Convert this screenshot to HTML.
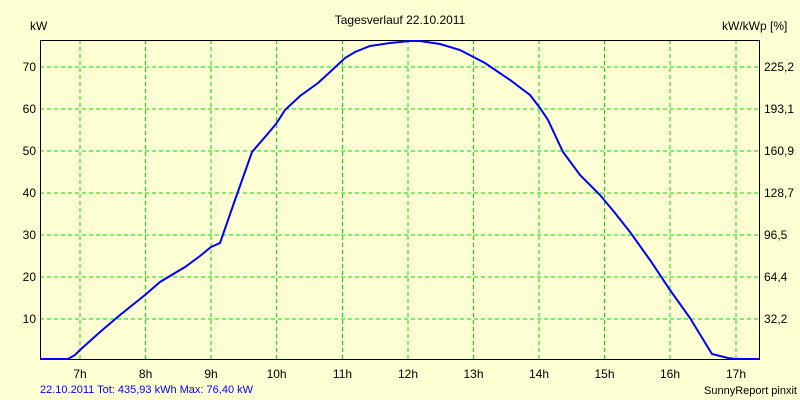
<!DOCTYPE html>
<html><head><style>
body{margin:0;background:#ffffd4;}
svg{display:block;font-family:"Liberation Sans",sans-serif;font-size:12px;}
</style></head><body>
<svg width="800" height="400" xmlns="http://www.w3.org/2000/svg">
<rect width="800" height="400" fill="#ffffd4"/>
<g stroke="#00e000" stroke-dasharray="4,3" stroke-width="1">
<line x1="80" y1="40" x2="80" y2="360"/><line x1="145.6" y1="40" x2="145.6" y2="360"/>
<line x1="211" y1="40" x2="211" y2="360"/><line x1="276.6" y1="40" x2="276.6" y2="360"/>
<line x1="342.5" y1="40" x2="342.5" y2="360"/><line x1="408" y1="40" x2="408" y2="360"/>
<line x1="473.5" y1="40" x2="473.5" y2="360"/><line x1="539" y1="40" x2="539" y2="360"/>
<line x1="604.5" y1="40" x2="604.5" y2="360"/><line x1="670" y1="40" x2="670" y2="360"/>
<line x1="736" y1="40" x2="736" y2="360"/>
<line x1="40" y1="67" x2="759" y2="67"/><line x1="40" y1="109" x2="759" y2="109"/>
<line x1="40" y1="151" x2="759" y2="151"/><line x1="40" y1="193" x2="759" y2="193"/>
<line x1="40" y1="235" x2="759" y2="235"/><line x1="40" y1="277" x2="759" y2="277"/>
<line x1="40" y1="319" x2="759" y2="319"/>
</g>
<rect x="40.5" y="40.5" width="719" height="319" fill="none" stroke="#000" stroke-width="1"/>
<polyline fill="none" stroke="#0000ff" stroke-width="2" points="40,359 68,359 75,355 80,350 100,332 120,315 145,295 160,282 185,267 200,256 211,247 220,243 235,200 252,152 265,137 276,124 285,110 300,96 318,83 330,72 345,58 355,52 370,46 390,43 410,41 420,41 440,44 460,50 485,63 510,80 530,95 540,108 548,120 563,152 580,175 600,195 615,213 630,232 650,260 670,290 690,318 712,354 728,358 735,359 759,359"/>
<g fill="#000">
<text x="400" y="24" text-anchor="middle">Tagesverlauf 22.10.2011</text>
<text x="30" y="30">kW</text>
<text x="722" y="30">kW/kWp [%]</text>
<g text-anchor="end">
<text x="36" y="71">70</text><text x="36" y="113">60</text><text x="36" y="155">50</text>
<text x="36" y="197">40</text><text x="36" y="239">30</text><text x="36" y="281">20</text><text x="36" y="323">10</text>
</g>
<g>
<text x="764" y="71">225,2</text><text x="764" y="113">193,1</text><text x="764" y="155">160,9</text>
<text x="764" y="197">128,7</text><text x="764" y="239">96,5</text><text x="764" y="281">64,4</text><text x="764" y="323">32,2</text>
</g>
<g text-anchor="middle">
<text x="80" y="378">7h</text><text x="145.6" y="378">8h</text><text x="211" y="378">9h</text>
<text x="276.6" y="378">10h</text><text x="342.5" y="378">11h</text><text x="408" y="378">12h</text>
<text x="473.5" y="378">13h</text><text x="539" y="378">14h</text><text x="604.5" y="378">15h</text>
<text x="670" y="378">16h</text><text x="736" y="378">17h</text>
</g>
<text x="40" y="393" fill="#0000ff" font-size="11">22.10.2011 Tot: 435,93 kWh Max: 76,40 kW</text>
<text x="797" y="394" text-anchor="end" font-size="11">SunnyReport pinxit</text>
</g>
</svg>
</body></html>
